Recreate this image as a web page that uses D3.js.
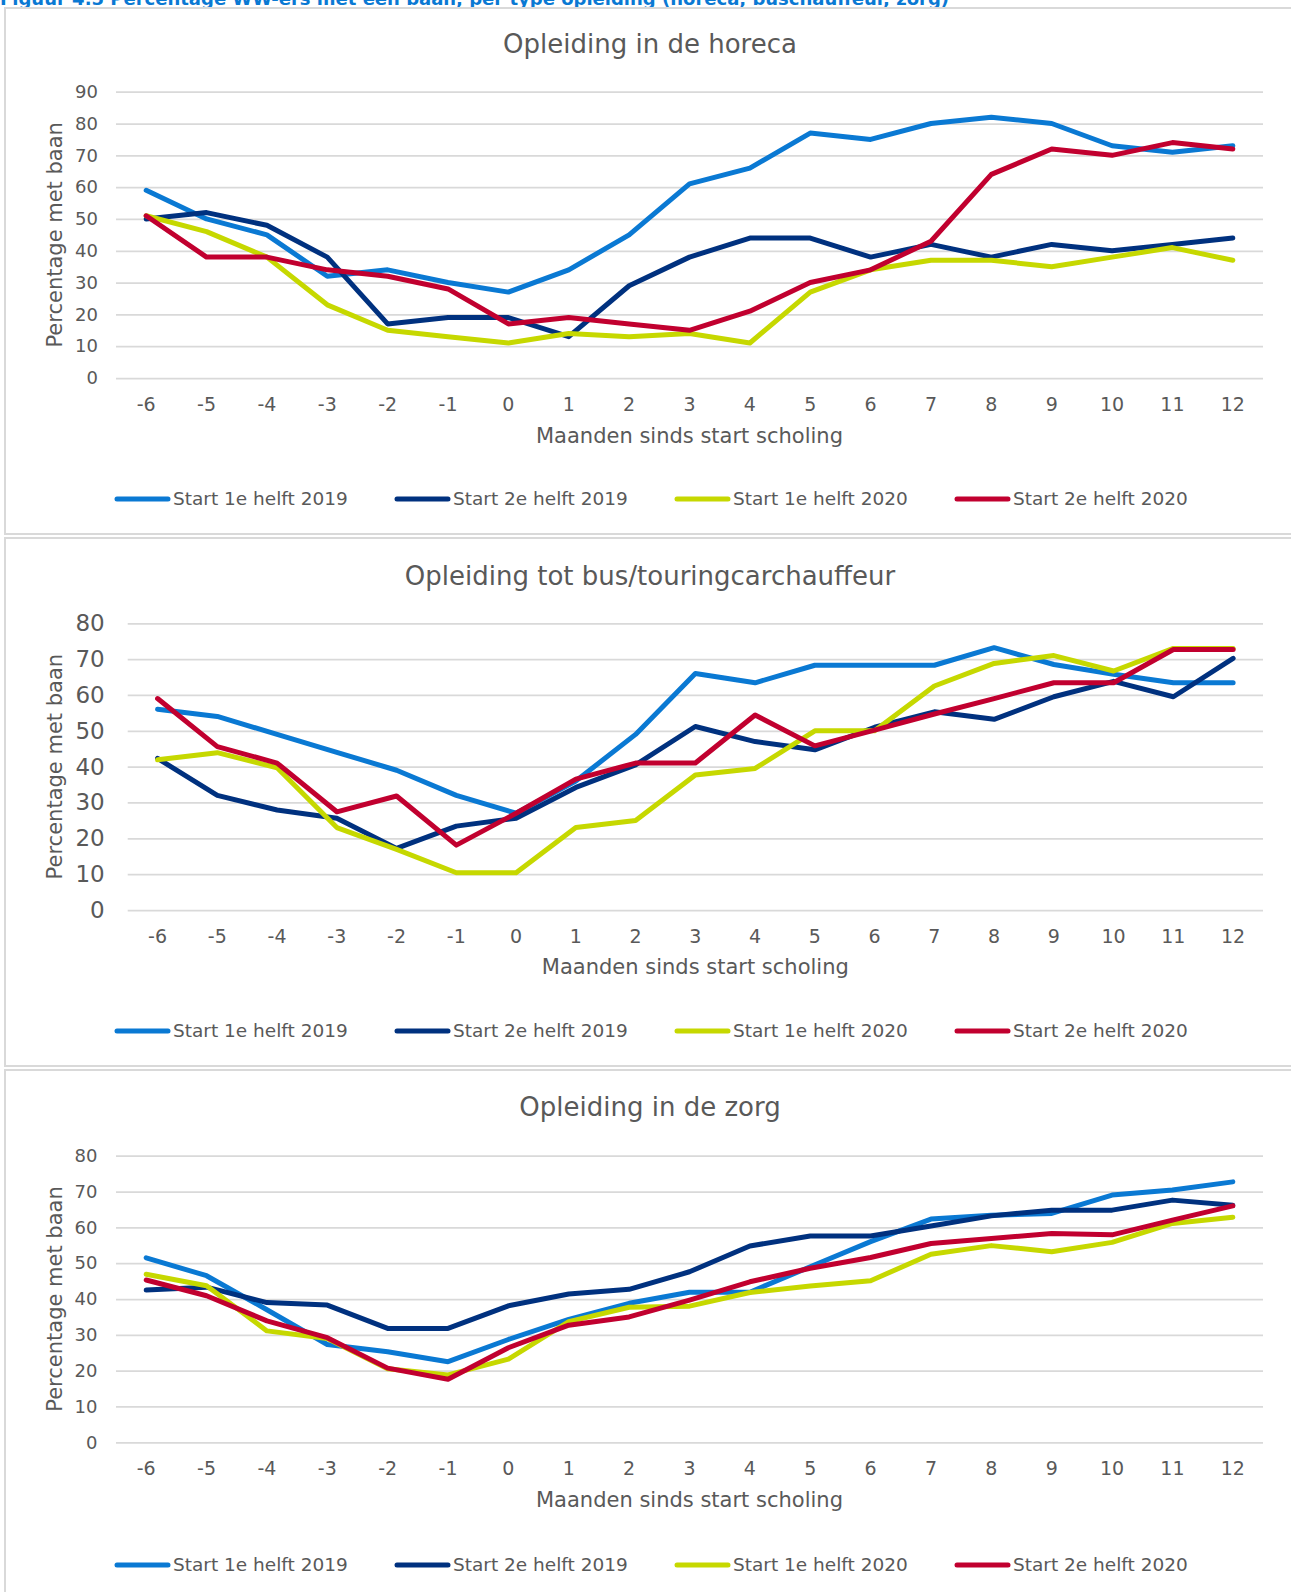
<!DOCTYPE html>
<html>
<head>
<meta charset="utf-8">
<script src="https://cdn.jsdelivr.net/npm/d3@7/dist/d3.min.js"></script>
<style>
  body { margin: 0; background: #fff; }
  svg text { font-family: "DejaVu Sans", Verdana, sans-serif; fill: #595959; }
</style>
</head>
<body>
<div id="chart"></div>
<script>
'use strict';

// categories: months since start of training
const months = [-6, -5, -4, -3, -2, -1, 0, 1, 2, 3, 4, 5, 6, 7, 8, 9, 10, 11, 12];

const seriesNames = ["Start 1e helft 2019", "Start 2e helft 2019", "Start 1e helft 2020", "Start 2e helft 2020"];
const seriesColors = ["#0A79D3", "#00317F", "#C6D800", "#C1002F"];

// Opleiding in de horeca
const horeca2019a = [59, 50, 45, 32, 34, 30, 27, 34, 45, 61, 66, 77, 75, 80, 82, 80, 73, 71, 73];
const horeca2019b = [50, 52, 48, 38, 17, 19, 19, 13, 29, 38, 44, 44, 38, 42, 38, 42, 40, 42, 44];
const horeca2020a = [51, 46, 38, 23, 15, 13, 11, 14, 13, 14, 11, 27, 34, 37, 37, 35, 38, 41, 37];
const horeca2020b = [51, 38, 38, 34, 32, 28, 17, 19, 17, 15, 21, 30, 34, 43, 64, 72, 70, 74, 72];

// Opleiding tot bus/touringcarchauffeur
const bus2019a = [56, 54, 49, 44, 39, 32, 27, 36, 49, 66, 63.4, 68.3, 68.3, 68.3, 73.2, 68.5, 65.8, 63.4, 63.4];
const bus2019b = [42.3, 32, 27.9, 25.6, 17.2, 23.4, 25.6, 34.2, 40.5, 51.2, 47, 44.7, 51, 55.3, 53.2, 59.5, 63.8, 59.5, 70.2];
const bus2020a = [41.9, 43.9, 39.7, 23, 16.9, 10.4, 10.4, 23, 25, 37.7, 39.5, 50, 50, 62.5, 68.8, 71, 66.7, 73, 73];
const bus2020b = [59, 45.6, 41, 27.4, 31.8, 18.1, 27, 36.5, 41, 41, 54.4, 45.8, 50.2, 54.7, 59, 63.4, 63.4, 72.7, 72.7];

// Opleiding in de zorg
const zorg2019a = [51.5, 46.5, 37, 27.3, 25.3, 22.5, 28.7, 34.3, 38.8, 41.9, 41.9, 49, 56, 62.3, 63.4, 63.9, 69, 70.4, 72.7];
const zorg2019b = [42.5, 43.3, 39, 38.3, 31.8, 31.8, 38.1, 41.4, 42.7, 47.6, 54.8, 57.6, 57.6, 60.4, 63.2, 64.8, 64.8, 67.6, 66.2];
const zorg2020a = [46.9, 43.7, 31.1, 29, 20.5, 18.8, 23.2, 33.7, 37.7, 38, 41.8, 43.6, 45.1, 52.5, 54.9, 53.2, 55.8, 61.1, 62.8];
const zorg2020b = [45.3, 40.9, 33.9, 29.2, 20.7, 17.6, 26.4, 32.7, 35, 39.7, 44.8, 48.6, 51.6, 55.5, 56.9, 58.3, 57.9, 62, 66];

const horecaTicks = [0, 10, 20, 30, 40, 50, 60, 70, 80, 90];
const busTicks = [0, 10, 20, 30, 40, 50, 60, 70, 80];
const zorgTicks = [0, 10, 20, 30, 40, 50, 60, 70, 80];

const figureTitle = "Figuur 4.5 Percentage WW-ers met een baan, per type opleiding (horeca, buschauffeur, zorg)";
const xTitle = "Maanden sinds start scholing";
const yTitle = "Percentage met baan";

const W = 1291, H = 1592;

const svg = d3.select("#chart").append("svg")
  .attr("width", W)
  .attr("height", H);

// figure caption, cut off at the top edge like in the source picture
svg.append("text")
  .attr("x", 0)
  .attr("y", 5)
  .style("font-weight", "bold")
  .style("font-size", "18px")
  .style("fill", "#0A79D3")
  .text(figureTitle);

const panels = [
  {
    title: "Opleiding in de horeca",
    series: [horeca2019a, horeca2019b, horeca2020a, horeca2020b],
    ticks: horecaTicks,
    box: {top: 8, bottom: 534},
    plot: {left: 116, right: 1263, top: 91.7, bottom: 378},
    titleY: 53, tickSize: 18, tickPad: 18,
    xTickY: 404, xTitleY: 436, legendY: 499
  },
  {
    title: "Opleiding tot bus/touringcarchauffeur",
    series: [bus2019a, bus2019b, bus2020a, bus2020b],
    ticks: busTicks,
    box: {top: 538, bottom: 1066},
    plot: {left: 127.7, right: 1263, top: 623.3, bottom: 910},
    titleY: 585, tickSize: 23, tickPad: 23,
    xTickY: 936, xTitleY: 967, legendY: 1031
  },
  {
    title: "Opleiding in de zorg",
    series: [zorg2019a, zorg2019b, zorg2020a, zorg2020b],
    ticks: zorgTicks,
    box: {top: 1070, bottom: 1700},
    plot: {left: 116, right: 1263, top: 1155.7, bottom: 1442.3},
    titleY: 1116, tickSize: 18, tickPad: 18.5,
    xTickY: 1468, xTitleY: 1500, legendY: 1565
  }
];

panels.forEach(p => drawPanel(p));

function drawPanel(p){
  let g = svg.append("g").attr("class", "panel");

  // panel frame
  g.append("rect")
    .attr("x", 5)
    .attr("y", p.box.top)
    .attr("width", W + 10)
    .attr("height", p.box.bottom - p.box.top)
    .style("fill", "none")
    .style("stroke", "#D9D9D9")
    .style("stroke-width", 2);

  g.append("text")
    .attr("x", 650)
    .attr("y", p.titleY)
    .attr("text-anchor", "middle")
    .style("font-size", "26px")
    .text(p.title);

  let x = d3.scaleBand()
    .domain(months)
    .range([p.plot.left, p.plot.right])
    .padding(0);

  let y = d3.scaleLinear()
    .domain([0, d3.max(p.ticks)])
    .range([p.plot.bottom, p.plot.top]);

  let xMid = d => x(d) + x.bandwidth() / 2;

  // y axis with gridlines
  let yAxis = g.append("g")
    .attr("transform", `translate(${p.plot.left},0)`)
    .call(d3.axisLeft(y)
      .tickValues(p.ticks)
      .tickSize(-(p.plot.right - p.plot.left))
      .tickPadding(p.tickPad));
  yAxis.select(".domain").remove();
  yAxis.selectAll(".tick line")
    .style("stroke", "#D9D9D9")
    .style("stroke-width", 1.75);
  yAxis.selectAll(".tick text")
    .attr("fill", null)
    .style("font-size", p.tickSize + "px")
    .style("font-family", null);

  // x axis, labels only
  let xAxis = g.append("g")
    .attr("transform", `translate(0,${p.plot.bottom})`)
    .call(d3.axisBottom(x).tickSize(0));
  xAxis.select(".domain").remove();
  xAxis.selectAll(".tick text")
    .attr("fill", null)
    .attr("y", p.xTickY - p.plot.bottom)
    .attr("dy", "0.35em")
    .style("font-size", "19px")
    .style("font-family", null);

  g.append("text")
    .attr("x", (p.plot.left + p.plot.right) / 2)
    .attr("y", p.xTitleY)
    .attr("dy", "0.35em")
    .attr("text-anchor", "middle")
    .style("font-size", "21px")
    .text(xTitle);

  g.append("text")
    .attr("transform", `translate(55,${(p.plot.top + p.plot.bottom) / 2}) rotate(-90)`)
    .attr("dy", "0.35em")
    .attr("text-anchor", "middle")
    .style("font-size", "21px")
    .text(yTitle);

  let line = d3.line()
    .x((d, i) => xMid(months[i]))
    .y(d => y(d));

  p.series.forEach((s, k) => {
    g.append("path")
      .datum(s)
      .attr("d", line)
      .style("fill", "none")
      .style("stroke", seriesColors[k])
      .style("stroke-width", 5)
      .style("stroke-linejoin", "round")
      .style("stroke-linecap", "round");
  });

  // legend
  let legend = g.append("g").attr("class", "legend");
  seriesNames.forEach((name, k) => {
    let lx = 115 + k * 280;
    legend.append("line")
      .attr("x1", lx + 2)
      .attr("x2", lx + 53)
      .attr("y1", p.legendY)
      .attr("y2", p.legendY)
      .style("stroke", seriesColors[k])
      .style("stroke-width", 5)
      .style("stroke-linecap", "round");
    legend.append("text")
      .attr("x", lx + 58)
      .attr("y", p.legendY)
      .attr("dy", "0.35em")
      .style("font-size", "18.5px")
      .text(name);
  });
}
</script>
</body>
</html>
